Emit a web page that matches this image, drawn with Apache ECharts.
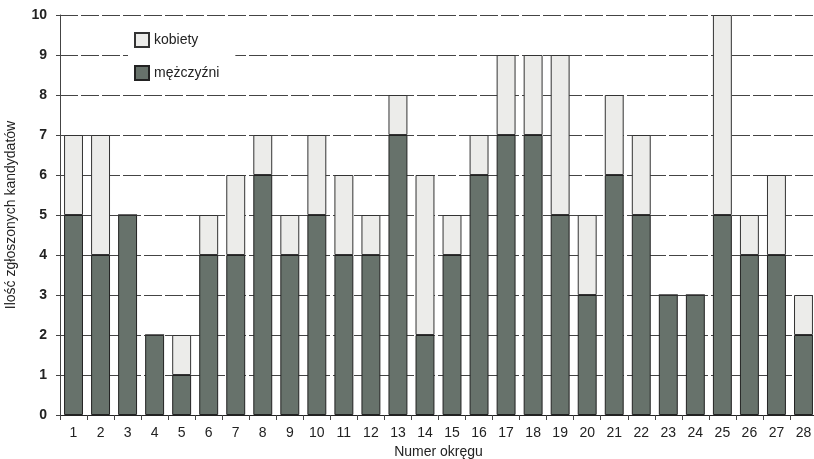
<!DOCTYPE html>
<html><head><meta charset="utf-8">
<script src="https://cdn.jsdelivr.net/npm/echarts@6/dist/echarts.min.js"></script>
<style>html,body{margin:0;padding:0;background:#fff}#c{width:814px;height:459px}</style>
</head><body><div id="c"></div>
<script>
const categories = ['1','2','3','4','5','6','7','8','9','10','11','12','13','14','15','16','17','18','19','20','21','22','23','24','25','26','27','28'];
const men   = [5,4,5,2,1,4,4,6,4,5,4,4,7,2,4,6,7,7,5,3,6,5,3,3,5,4,4,2];
const women = [2,3,0,0,1,1,2,1,1,2,2,1,1,4,1,1,2,2,4,2,2,2,0,0,5,1,2,1];
const yTicks = [0,1,2,3,4,5,6,7,8,9,10];

const font = 'Liberation Sans, Arial, sans-serif';
const chart = echarts.init(document.getElementById('c'), null, {renderer:'canvas'});
chart.setOption({
  backgroundColor:'#fff',
  animation:false,
  grid:{left:60,right:-3,top:15,bottom:44,outerBoundsMode:'none',containLabel:false},
  legend:{
    data:['kobiety','mężczyźni'],
    orient:'vertical', left:128, top:28,
    itemWidth:14, itemHeight:14, itemGap:17,
    backgroundColor:'#fff', padding:[4,16,4,6],
    textStyle:{fontFamily:font,fontSize:14,color:'#222'},
    icon:'rect'
  },
  xAxis:{
    type:'category', data:categories,
    name:'Numer okręgu', nameLocation:'middle', nameGap:29,
    nameTextStyle:{fontFamily:font,fontSize:14,color:'#222'},
    axisLine:{lineStyle:{color:'#222',width:1}},
    axisTick:{show:true,alignWithLabel:false,length:5,lineStyle:{color:'#444'}},
    axisLabel:{fontFamily:font,fontSize:14,color:'#222',margin:11,interval:0}
  },
  yAxis:{
    type:'value', min:0, max:10, interval:1,
    name:'Ilość zgłoszonych kandydatów', nameLocation:'middle', nameGap:42,
    nameTextStyle:{fontFamily:font,fontSize:14,color:'#222'},
    axisLine:{show:true,lineStyle:{color:'#444'}},
    axisTick:{show:true,length:4,lineStyle:{color:'#444'}},
    axisLabel:{fontFamily:font,fontSize:14,fontWeight:'bold',color:'#222',margin:13,
      formatter:v=>yTicks.includes(v)?String(v):''},
    splitLine:{show:true,lineStyle:{color:'#444',type:[18,3],width:1}}
  },
  series:[
    {name:'mężczyźni',type:'bar',stack:'a',data:men,barWidth:'70%',
     itemStyle:{color:'#67726b',borderColor:'#222',borderWidth:1}},
    {name:'kobiety',type:'bar',stack:'a',data:women,barWidth:'70%',
     itemStyle:{color:'#ececea',borderColor:'#333',borderWidth:1}}
  ]
});
</script></body></html>
